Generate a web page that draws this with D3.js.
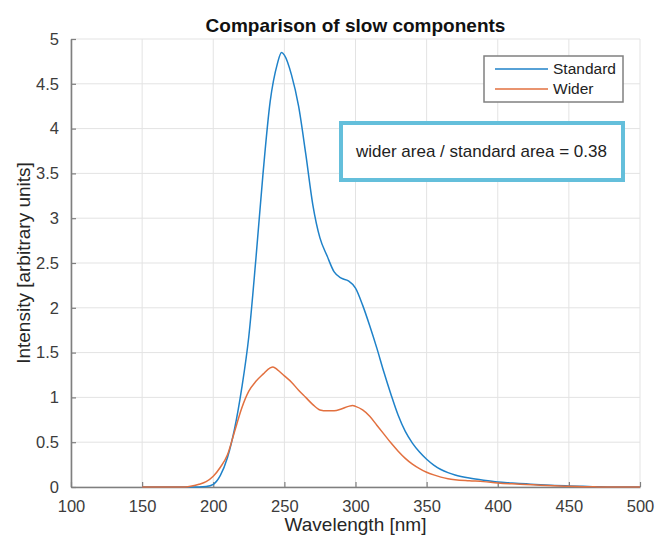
<!DOCTYPE html>
<html>
<head>
<meta charset="utf-8">
<script src="https://cdn.jsdelivr.net/npm/d3@7"></script>
<style>
    body { margin: 0; background: #fff; }
    svg { font-family: "Liberation Sans", Arial, sans-serif; }
    .grid line { stroke: #e3e3e3; stroke-width: 1; }
    .axis path, .axis line { stroke: #7f7f7f; }
    .axis text { fill: #3c3c3c; font-size: 16.5px; }
</style>
</head>
<body>
<div id="chart"></div>
<script>
// Comparison of slow components
const xTicks = [100, 150, 200, 250, 300, 350, 400, 450, 500];
const yTicks = [0, 0.5, 1, 1.5, 2, 2.5, 3, 3.5, 4, 4.5, 5];

const standardWavelength = [150, 160, 170, 180, 190, 195, 200, 205, 210, 215, 220, 225, 230, 235, 240, 245, 248,
    250, 255, 260, 265, 270, 275, 280, 285, 290, 295, 300, 305, 310, 315, 320, 325, 330, 335, 340, 345, 350,
    355, 360, 365, 370, 380, 390, 400, 410, 420, 430, 440, 450, 460, 470, 480, 490, 500];
const standardIntensity = [0, 0, 0, 0, 0, 0.005, 0.03, 0.13, 0.33, 0.65, 1.1, 1.68, 2.55, 3.5, 4.3, 4.72, 4.85,
    4.82, 4.6, 4.25, 3.72, 3.15, 2.78, 2.58, 2.4, 2.33, 2.3, 2.22, 2.03, 1.8, 1.55, 1.28, 1.03, 0.8, 0.62, 0.49, 0.39, 0.31,
    0.245, 0.195, 0.16, 0.135, 0.1, 0.075, 0.055, 0.045, 0.035, 0.025, 0.018, 0.012, 0.007, 0.003, 0, 0, 0];

const widerWavelength = [150, 160, 170, 180, 185, 190, 195, 200, 205, 210, 215, 220, 225, 230, 235, 240, 242, 245,
    250, 255, 260, 265, 270, 275, 280, 285, 290, 295, 298, 300, 305, 310, 315, 320, 325, 330, 335, 340, 345, 350,
    355, 360, 365, 370, 380, 390, 400, 410, 420, 430, 440, 450, 460, 470, 480, 490, 500];
const widerIntensity = [0, 0, 0, 0, 0.01, 0.03, 0.06, 0.12, 0.22, 0.36, 0.62, 0.88, 1.07, 1.18, 1.26, 1.33, 1.34, 1.31,
    1.24, 1.17, 1.08, 1.0, 0.92, 0.86, 0.85, 0.85, 0.87, 0.9, 0.91, 0.9, 0.86, 0.79, 0.69, 0.59, 0.49, 0.4, 0.32, 0.255, 0.205, 0.165,
    0.135, 0.11, 0.093, 0.082, 0.07, 0.06, 0.045, 0.035, 0.028, 0.02, 0.013, 0.008, 0.004, 0.001, 0, 0, 0];

const seriesNames = ['Standard', 'Wider'];
const seriesColors = ['#1f82c9', '#e2703f'];
const areaRatioText = 'wider area / standard area = 0.38';

const width = 656;
const height = 540;
const margin = { top: 39, right: 16, bottom: 53, left: 71 };
const innerW = width - margin.left - margin.right;
const innerH = height - margin.top - margin.bottom;

const svg = d3.select('#chart').append('svg')
    .attr('width', width)
    .attr('height', height);

const x = d3.scaleLinear().domain([100, 500]).range([0, innerW]);
const y = d3.scaleLinear().domain([0, 5]).range([innerH, 0]);

const g = svg.append('g').attr('transform', `translate(${margin.left},${margin.top})`);

// grid
const grid = g.append('g').attr('class', 'grid');
grid.selectAll('.vx').data(xTicks).enter().append('line')
    .attr('x1', d => x(d)).attr('x2', d => x(d))
    .attr('y1', 0).attr('y2', innerH);
grid.selectAll('.hy').data(yTicks).enter().append('line')
    .attr('x1', 0).attr('x2', innerW)
    .attr('y1', d => y(d)).attr('y2', d => y(d));

// axes (ticks point inward, like MATLAB)
const xAxis = g.append('g').attr('class', 'axis')
    .attr('transform', `translate(0,${innerH})`)
    .call(d3.axisBottom(x).tickValues(xTicks).tickSize(-5).tickSizeOuter(0).tickPadding(13));
const yAxis = g.append('g').attr('class', 'axis')
    .call(d3.axisLeft(y).tickValues(yTicks).tickFormat(d3.format('~g')).tickSize(-5).tickSizeOuter(0).tickPadding(12));
[xAxis, yAxis].forEach(a => {
    a.select('.domain').attr('stroke-width', 1.6);
    a.selectAll('.tick line').attr('stroke-width', 1.2);
});

// lines
const line = d3.line()
    .x(d => x(d[0]))
    .y(d => y(d[1]))
    .curve(d3.curveMonotoneX);

const series = [
    d3.zip(standardWavelength, standardIntensity),
    d3.zip(widerWavelength, widerIntensity)
];

g.selectAll('.series').data(series).enter().append('path')
    .attr('class', 'series')
    .attr('fill', 'none')
    .attr('stroke', (d, i) => seriesColors[i])
    .attr('stroke-width', 1.5)
    .attr('d', line);

// title and labels
svg.append('text')
    .attr('x', margin.left + innerW / 2)
    .attr('y', 32)
    .attr('text-anchor', 'middle')
    .attr('font-weight', 'bold')
    .attr('font-size', 19)
    .attr('fill', '#111')
    .text('Comparison of slow components');

svg.append('text')
    .attr('x', margin.left + innerW / 2)
    .attr('y', 531)
    .attr('text-anchor', 'middle')
    .attr('font-size', 19)
    .attr('fill', '#262626')
    .text('Wavelength [nm]');

svg.append('text')
    .attr('transform', `translate(30,${margin.top + innerH / 2}) rotate(-90)`)
    .attr('text-anchor', 'middle')
    .attr('font-size', 19)
    .attr('fill', '#262626')
    .text('Intensity [arbitrary units]');

// legend
const legend = svg.append('g').attr('transform', 'translate(484,56)');
legend.append('rect')
    .attr('width', 139).attr('height', 46)
    .attr('fill', '#fff')
    .attr('stroke', '#808080')
    .attr('stroke-width', 1.5);
seriesNames.forEach((name, i) => {
    const row = legend.append('g').attr('transform', `translate(0,${13 + i * 20})`);
    row.append('line')
        .attr('x1', 11).attr('x2', 64)
        .attr('stroke', seriesColors[i])
        .attr('stroke-width', 1.5);
    row.append('text')
        .attr('x', 69).attr('dy', '0.35em')
        .attr('font-size', 15.5)
        .attr('fill', '#222')
        .text(name);
});

// annotation box
const note = svg.append('g').attr('transform', 'translate(341,123)');
note.append('rect')
    .attr('width', 282).attr('height', 57)
    .attr('fill', '#fff')
    .attr('stroke', '#64bfdb')
    .attr('stroke-width', 4);
note.append('text')
    .attr('x', 15).attr('y', 34)
    .attr('font-size', 17)
    .attr('fill', '#222')
    .text(areaRatioText);
</script>
</body>
</html>
